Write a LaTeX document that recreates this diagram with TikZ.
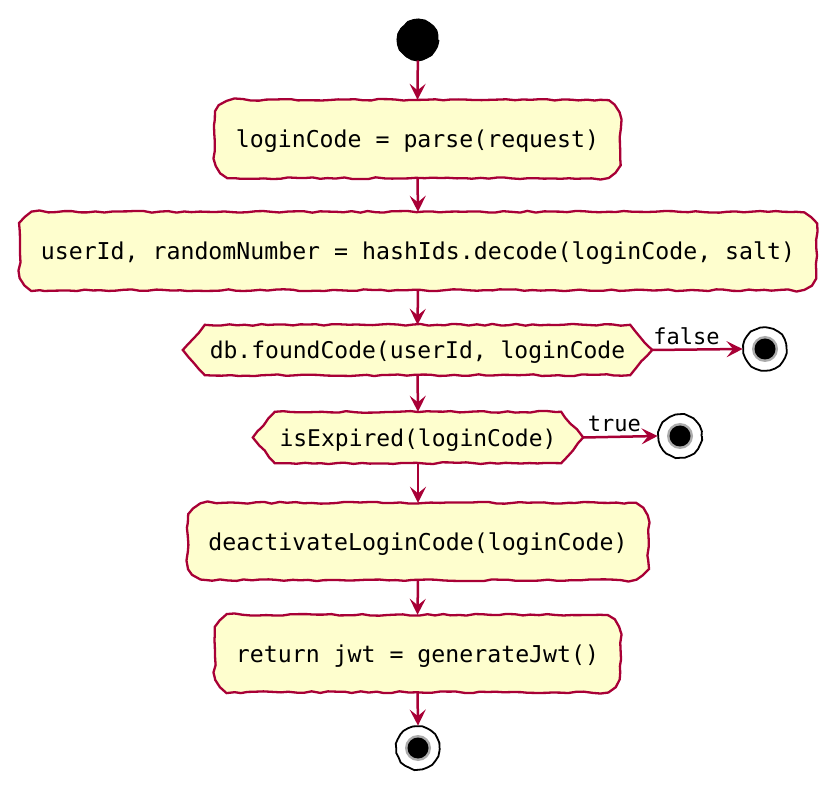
\documentclass[tikz,border=0pt]{standalone}
\usepackage{fontspec}
\setmonofont{DejaVu Sans Mono}
\usetikzlibrary{arrows.meta,decorations.pathmorphing,backgrounds}
\definecolor{pumlred}{HTML}{A80036}
\definecolor{pumlfill}{HTML}{FEFECE}
\tikzset{
  wob/.style={decorate,decoration={random steps,segment length=8pt,amplitude=0.9pt}},
  cwob/.style={decorate,decoration={random steps,segment length=5pt,amplitude=0.6pt}},
  boxtext/.style={font=\ttfamily\fontsize{23.2}{26}\selectfont,inner sep=0pt,text=black},
  hexlabel/.style={inner sep=0pt,font=\ttfamily\fontsize{23}{26}\selectfont,text=black},
  shapeline/.style={draw=pumlred,fill=pumlfill,line width=2.3pt,wob},
  flow/.style={draw=pumlred,line width=2.5pt,-{Stealth[length=16pt,width=16pt,inset=6.5pt]}},
  lbl/.style={font=\ttfamily\fontsize{22}{24}\selectfont,inner sep=0pt,text=black},
}
\newcommand{\rbox}[2]{% node name, radius
  \path[shapeline] ([xshift=-#2]#1.north east) arc[start angle=90,end angle=0,radius=#2]
    -- ([yshift=#2]#1.south east) arc[start angle=0,end angle=-90,radius=#2]
    -- ([xshift=#2]#1.south west) arc[start angle=-90,end angle=-180,radius=#2]
    -- ([yshift=-#2]#1.north west) arc[start angle=180,end angle=90,radius=#2]
    -- cycle;}
\newcommand{\hexbox}[1]{%
  \path[shapeline] (#1.west) -- ([xshift=22pt]#1.north west) -- ([xshift=-22pt]#1.north east) -- (#1.east)
     -- ([xshift=-22pt]#1.south east) -- ([xshift=22pt]#1.south west) -- cycle;}
\newcommand{\low}[1]{\raisebox{0pt}[20pt][2pt]{#1}}
\begin{document}
\begin{tikzpicture}[x=1pt,y=-1pt]
\useasboundingbox (0,0) rectangle (836,791);
% start
\node[circle,fill=black,minimum size=40pt,inner sep=0pt,draw=black,line width=1pt,cwob] (start) at (418,40) {};
% actions and decisions
\node[boxtext,minimum width=405pt,minimum height=78pt] (b1) at (417.5,139) {\low{loginCode = parse(request)}};
\node[boxtext,minimum width=796pt,minimum height=78pt] (b2) at (418,251) {\low{userId, randomNumber = hashIds.decode(loginCode, salt)}};
\node[hexlabel,minimum width=469pt,minimum height=50pt] (d1) at (417.5,350) {\low{db.foundCode(userId, loginCode}};
\node[hexlabel,minimum width=330pt,minimum height=51pt] (d2) at (418,437.5) {\low{isExpired(loginCode)}};
\node[boxtext,minimum width=460pt,minimum height=77pt] (b3) at (418,541.5) {\low{deactivateLoginCode(loginCode)}};
\node[boxtext,minimum width=405pt,minimum height=77pt] (b4) at (417.5,653.5) {\low{return jwt = generateJwt()}};
\begin{scope}[on background layer]
  \rbox{b1}{20pt}
  \rbox{b2}{20pt}
  \rbox{b3}{20pt}
  \rbox{b4}{20pt}
  \hexbox{d1}
  \hexbox{d2}
\end{scope}
% end nodes
\foreach \n/\x/\y in {e1/765/349, e2/680/436, e3/418/748}{
  \node[circle,draw=black,fill=white,line width=1.8pt,minimum size=43pt,inner sep=0pt,cwob] (\n) at (\x,\y) {};
  \fill[gray!65] (\n.center) circle (13pt);
  \fill[black] (\n.center) circle (10.5pt);
}
% connectors
\draw[flow] (start) -- (b1.north);
\draw[flow] (b1.south) -- (b2.north);
\draw[flow] (b2.south) -- (d1.north);
\draw[flow] (d1.south) -- (d2.north);
\draw[flow] (d2.south) -- (b3.north);
\draw[flow] (b3.south) -- (b4.north);
\draw[flow] (b4.south) -- (e3.north);
\draw[flow] (d1.east) -- node[lbl,above=4pt,pos=0.38]{false} (e1.west);
\draw[flow] (d2.east) -- node[lbl,above=4pt,pos=0.42]{true} (e2.west);
\end{tikzpicture}
\end{document}
